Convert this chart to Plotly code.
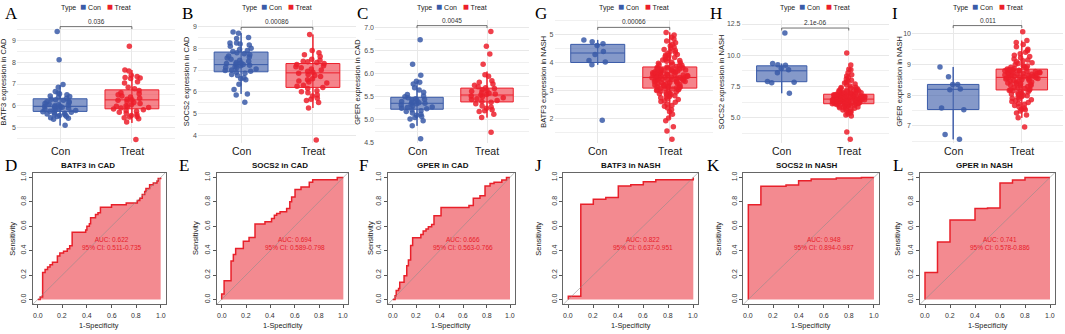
import plotly.graph_objects as go

W, H = 1065, 334

# ---------------- data ----------------
categories = ["Con", "Treat"]
letters_top = ["A", "B", "C", "G", "H", "I"]
letters_bottom = ["D", "E", "F", "J", "K", "L"]
ylabels_top = ["BATF3 expression in CAD", "SOCS2 expression in CAD", "GPER expression in CAD",
               "BATF3 expression in NASH", "SOCS2 expression in NASH", "GPER expression in NASH"]
p_labels = ["0.036", "0.00086", "0.0045", "0.00066", "2.1e-06", "0.011"]
p_bracket = [9.64, 8.97, 7.05, 5.27, 12.18, 10.27]
roc_titles = ["BATF3 in CAD", "SOCS2 in CAD", "GPER in CAD",
              "BATF3 in NASH", "SOCS2 in NASH", "GPER in NASH"]
auc_labels = ["AUC: 0.622<br>95% CI: 0.511-0.735",
              "AUC: 0.694<br>95% CI: 0.589-0.798",
              "AUC: 0.666<br>95% CI: 0.563-0.766",
              "AUC: 0.822<br>95% CI: 0.637-0.951",
              "AUC: 0.948<br>95% CI: 0.894-0.987",
              "AUC: 0.741<br>95% CI: 0.578-0.886"]

# box statistics: [lower whisker, Q1, median, Q3, upper whisker]
A_con_stats = [5.09, 5.74, 5.97, 6.32, 6.95]
A_treat_stats = [5.21, 5.86, 6.27, 6.73, 7.64]
B_con_stats = [5.90, 6.92, 7.25, 7.83, 8.70]
B_treat_stats = [5.25, 6.20, 6.87, 7.30, 8.64]
C_con_stats = [4.87, 5.23, 5.36, 5.49, 5.84]
C_treat_stats = [5.05, 5.39, 5.54, 5.69, 6.05]
G_con_stats = [3.93, 4.01, 4.35, 4.66, 4.82]
G_treat_stats = [2.00, 3.09, 3.47, 3.85, 5.09]
H_con_stats = [6.97, 7.89, 8.76, 9.16, 9.34]
H_treat_stats = [5.40, 6.13, 6.50, 6.89, 7.45]
I_con_stats = [6.56, 7.53, 8.19, 8.35, 8.92]
I_treat_stats = [7.26, 8.17, 8.58, 8.85, 9.78]

# individual samples
A_con = [9.41, 8.12, 6.98, 6.85, 6.65, 6.60, 6.55, 6.50, 6.45, 6.42, 6.40, 6.35, 6.30, 6.28, 6.25,
         6.20, 6.18, 6.15, 6.10, 6.08, 6.05, 6.02, 6.00, 5.98, 5.97, 5.95, 5.93, 5.90, 5.88, 5.85,
         5.83, 5.80, 5.78, 5.75, 5.72, 5.70, 5.68, 5.65, 5.62, 5.60, 5.58, 5.55, 5.52, 5.50, 5.45,
         5.42, 5.38, 5.10]
A_treat = [8.74, 7.64, 7.60, 7.40, 7.35, 7.30, 7.28, 7.25, 7.10, 7.05, 6.85, 6.78, 6.70, 6.60, 6.55,
           6.50, 6.45, 6.40, 6.35, 6.30, 6.28, 6.25, 6.20, 6.15, 6.10, 6.05, 6.00, 5.98, 5.95, 5.92,
           5.90, 5.85, 5.82, 5.78, 5.75, 5.70, 5.65, 5.60, 5.55, 5.50, 5.48, 5.45, 5.40, 5.25, 4.45]
B_con = [8.75, 8.70, 8.50, 8.45, 8.25, 8.25, 8.20, 8.15, 8.10, 8.00, 7.95, 7.90, 7.85, 7.80, 7.75,
         7.70, 7.65, 7.60, 7.55, 7.50, 7.45, 7.40, 7.35, 7.32, 7.30, 7.28, 7.25, 7.22, 7.20, 7.15,
         7.12, 7.10, 7.05, 7.00, 6.98, 6.95, 6.90, 6.85, 6.80, 6.75, 6.65, 6.60, 6.55, 6.35, 6.10,
         5.90, 5.85, 5.52]
B_treat = [8.64, 7.90, 7.80, 7.70, 7.62, 7.50, 7.45, 7.40, 7.38, 7.35, 7.30, 7.25, 7.20, 7.15, 7.10,
           7.05, 7.00, 6.95, 6.90, 6.85, 6.80, 6.75, 6.70, 6.60, 6.55, 6.50, 6.45, 6.40, 6.30, 6.25,
           6.20, 6.15, 6.05, 6.00, 5.95, 5.85, 5.80, 5.70, 5.65, 5.60, 5.50, 5.25, 3.77]
C_con = [6.74, 6.21, 5.97, 5.84, 5.82, 5.78, 5.70, 5.65, 5.60, 5.55, 5.52, 5.50, 5.48, 5.46, 5.45,
         5.43, 5.42, 5.40, 5.38, 5.37, 5.36, 5.35, 5.34, 5.32, 5.30, 5.28, 5.27, 5.25, 5.24, 5.22,
         5.20, 5.18, 5.15, 5.12, 5.10, 5.07, 5.05, 5.02, 4.98, 4.87, 4.59]
C_treat = [6.92, 6.60, 6.43, 6.21, 5.98, 5.95, 5.85, 5.82, 5.78, 5.75, 5.72, 5.70, 5.68, 5.66, 5.64,
           5.62, 5.60, 5.58, 5.56, 5.55, 5.54, 5.52, 5.50, 5.48, 5.46, 5.44, 5.42, 5.40, 5.38, 5.35,
           5.30, 5.28, 5.25, 5.22, 5.20, 5.18, 5.12, 5.05, 4.73]
G_con = [4.82, 4.75, 4.68, 4.62, 4.40, 4.30, 4.08, 4.03, 3.93, 1.94]
G_treat = [1.25, 1.55, 1.70, 1.92, 2.02, 2.15, 2.24, 2.31, 2.38, 2.44, 2.47, 2.52, 2.58, 2.61, 2.63,
           2.68, 2.71, 2.74, 2.77, 2.79, 2.82, 2.86, 2.87, 2.89, 2.91, 2.93, 2.95, 2.97, 2.98, 3.00,
           3.02, 3.03, 3.05, 3.06, 3.07, 3.08, 3.10, 3.11, 3.13, 3.14, 3.15, 3.17, 3.18, 3.20, 3.21,
           3.22, 3.24, 3.25, 3.27, 3.28, 3.29, 3.31, 3.32, 3.33, 3.35, 3.36, 3.37, 3.38, 3.39, 3.40,
           3.41, 3.42, 3.43, 3.44, 3.45, 3.46, 3.46, 3.47, 3.48, 3.49, 3.50, 3.51, 3.52, 3.53, 3.54,
           3.55, 3.56, 3.57, 3.58, 3.59, 3.60, 3.61, 3.62, 3.63, 3.64, 3.65, 3.66, 3.68, 3.69, 3.70,
           3.71, 3.72, 3.73, 3.74, 3.76, 3.77, 3.78, 3.79, 3.81, 3.82, 3.83, 3.85, 3.87, 3.89, 3.91,
           3.93, 3.95, 3.98, 4.00, 4.02, 4.05, 4.08, 4.10, 4.13, 4.16, 4.19, 4.22, 4.25, 4.28, 4.30,
           4.33, 4.37, 4.40, 4.44, 4.48, 4.52, 4.56, 4.61, 4.66, 4.72, 4.78, 4.85, 4.92, 5.00, 5.09]
H_con = [11.79, 9.34, 9.25, 9.20, 8.95, 8.85, 8.60, 7.90, 7.85, 7.80, 6.97]
H_treat = [3.29, 3.87, 5.15, 5.22, 5.30, 5.38, 5.45, 5.52, 5.58, 5.63, 5.68, 5.72, 5.76, 5.80, 5.84,
           5.87, 5.90, 5.93, 5.96, 5.98, 6.00, 6.02, 6.04, 6.06, 6.08, 6.09, 6.10, 6.11, 6.12, 6.13,
           6.14, 6.15, 6.17, 6.18, 6.19, 6.21, 6.22, 6.23, 6.25, 6.26, 6.27, 6.29, 6.30, 6.31, 6.33,
           6.34, 6.35, 6.37, 6.38, 6.39, 6.41, 6.42, 6.43, 6.45, 6.46, 6.47, 6.48, 6.49, 6.50, 6.51,
           6.52, 6.54, 6.55, 6.56, 6.58, 6.59, 6.60, 6.62, 6.63, 6.64, 6.66, 6.67, 6.68, 6.70, 6.71,
           6.72, 6.74, 6.75, 6.76, 6.78, 6.79, 6.80, 6.82, 6.83, 6.85, 6.86, 6.87, 6.89, 6.91, 6.93,
           6.95, 6.97, 6.99, 7.01, 7.03, 7.05, 7.08, 7.10, 7.12, 7.15, 7.18, 7.21, 7.24, 7.27, 7.30,
           7.34, 7.38, 7.42, 7.45, 7.55, 7.62, 7.70, 7.78, 7.85, 7.92, 8.00, 8.10, 8.22, 8.35, 8.45,
           8.60, 8.85, 8.88, 9.22, 10.18]
I_con = [8.92, 8.60, 8.35, 8.35, 8.20, 8.18, 7.58, 7.52, 6.72, 6.56]
I_treat = [6.96, 7.26, 7.35, 7.42, 7.48, 7.52, 7.55, 7.58, 7.62, 7.66, 7.70, 7.73, 7.76, 7.79, 7.82,
           7.85, 7.88, 7.90, 7.93, 7.95, 7.98, 8.00, 8.02, 8.04, 8.06, 8.08, 8.10, 8.12, 8.14, 8.15,
           8.16, 8.18, 8.20, 8.22, 8.24, 8.26, 8.28, 8.30, 8.32, 8.33, 8.35, 8.37, 8.38, 8.40, 8.42,
           8.43, 8.45, 8.46, 8.48, 8.49, 8.50, 8.52, 8.53, 8.54, 8.55, 8.56, 8.57, 8.58, 8.59, 8.60,
           8.61, 8.62, 8.63, 8.64, 8.65, 8.66, 8.67, 8.68, 8.69, 8.70, 8.71, 8.72, 8.73, 8.74, 8.75,
           8.76, 8.77, 8.78, 8.79, 8.80, 8.81, 8.82, 8.83, 8.84, 8.85, 8.87, 8.89, 8.91, 8.93, 8.95,
           8.97, 9.00, 9.03, 9.06, 9.09, 9.12, 9.15, 9.18, 9.22, 9.26, 9.30, 9.35, 9.40, 9.45, 9.50,
           9.58, 9.65, 9.72, 9.78, 10.07]

# ROC curves (1-specificity, sensitivity) step vertices
D_fpr = [0, 0.02, 0.04, 0.06, 0.08, 0.10, 0.12, 0.16, 0.18, 0.21, 0.24, 0.26, 0.28, 0.39, 0.40, 0.42,
         0.43, 0.47, 0.49, 0.51, 0.60, 0.72, 0.81, 0.83, 0.85, 0.87, 0.88, 0.91, 0.94, 0.97, 0.98, 1.0]
D_tpr = [0, 0.02, 0.22, 0.245, 0.265, 0.285, 0.305, 0.355, 0.38, 0.395, 0.415, 0.44, 0.55, 0.57, 0.60,
         0.62, 0.67, 0.695, 0.71, 0.755, 0.775, 0.79, 0.81, 0.83, 0.86, 0.885, 0.91, 0.94, 0.955, 0.97,
         0.99, 1.0]
E_fpr = [0, 0.0, 0.02, 0.077, 0.096, 0.115, 0.178, 0.225, 0.274, 0.356, 0.41, 0.433, 0.452, 0.48,
         0.534, 0.56, 0.575, 0.603, 0.652, 0.72, 0.748, 0.95, 1.0]
E_tpr = [0, 0.045, 0.153, 0.315, 0.368, 0.417, 0.476, 0.508, 0.618, 0.637, 0.664, 0.69, 0.704, 0.718,
         0.745, 0.80, 0.84, 0.90, 0.922, 0.96, 0.98, 1.0, 1.0]
F_fpr = [0, 0.02, 0.03, 0.05, 0.06, 0.097, 0.12, 0.134, 0.153, 0.17, 0.24, 0.26, 0.284, 0.304, 0.332,
         0.352, 0.412, 0.65, 0.687, 0.744, 0.787, 0.83, 0.864, 0.93, 0.97, 1.0]
F_tpr = [0, 0.03, 0.073, 0.09, 0.14, 0.195, 0.276, 0.324, 0.443, 0.505, 0.532, 0.56, 0.578, 0.595,
         0.614, 0.686, 0.754, 0.77, 0.83, 0.85, 0.93, 0.95, 0.96, 0.978, 1.0, 1.0]
J_fpr = [0, 0.0, 0.1, 0.2, 0.3, 0.4, 0.5, 0.6, 0.7, 1.0]
J_tpr = [0, 0.027, 0.78, 0.82, 0.835, 0.93, 0.94, 0.965, 0.98, 1.0]
K_fpr = [0, 0.0, 0.1, 0.3, 0.4, 0.5, 0.7, 0.9, 1.0]
K_tpr = [0, 0.776, 0.927, 0.938, 0.973, 0.986, 0.995, 1.0, 1.0]
L_fpr = [0, 0.0, 0.1, 0.2, 0.4, 0.5, 0.6, 0.7, 0.8, 1.0]
L_tpr = [0, 0.22, 0.47, 0.65, 0.745, 0.75, 0.955, 0.978, 1.0, 1.0]

roc_ticks = [0.0, 0.2, 0.4, 0.6, 0.8, 1.0]

box_con = [A_con_stats, B_con_stats, C_con_stats, G_con_stats, H_con_stats, I_con_stats]
box_treat = [A_treat_stats, B_treat_stats, C_treat_stats, G_treat_stats, H_treat_stats, I_treat_stats]
pts_con = [A_con, B_con, C_con, G_con, H_con, I_con]
pts_treat = [A_treat, B_treat, C_treat, G_treat, H_treat, I_treat]
roc_fpr = [D_fpr, E_fpr, F_fpr, J_fpr, K_fpr, L_fpr]
roc_tpr = [D_tpr, E_tpr, F_tpr, J_tpr, K_tpr, L_tpr]

# ---------------- layout geometry (pixels) ----------------
top_x_px = [(17, 175), (198, 356), (375, 529), (554.5, 713), (741.5, 889), (912, 1063)]
top_y_px = (19, 144)
top_yrange = [(4.273, 9.955), (3.622, 9.319), (4.49, 7.177), (1.11, 5.543), (2.97, 12.84), (6.43, 10.46)]
top_ticks = [[5, 6, 7, 8, 9], [4, 5, 6, 7, 8, 9], [4.5, 5.0, 5.5, 6.0, 6.5, 7.0],
             [2, 3, 4, 5], [5.0, 7.5, 10.0, 12.5], [7, 8, 9, 10]]
top_tickfmt = ["{:d}", "{:d}", "{:.1f}", "{:d}", "{:.1f}", "{:d}"]
top_minor = [0.5, 0.5, 0.25, 0.5, 1.25, 0.5]
top_ylab_x = [4, 186.7, 357.3, 543.3, 721.7, 900]
top_letter_x = [3, 180, 355, 533, 708, 890]
top_xlab_y = 152

roc_x_px = [(32.8, 165.6), (216.8, 348.2), (388, 514.7), (563.3, 698.3), (743.3, 879), (920, 1055)]
roc_y_px = (173.6, 307)
roc_title_x = [88, 280, 443, 631, 807, 984]
roc_sens_x = [12.3, 195.7, 370.7, 538.3, 718.3, 897.3]
bottom_letter_x = [3, 177, 357, 533, 705, 891]
roc_xtick_y = 318.5
roc_xlab_y = 328.5

CON_COL = "#3A5BA8"
TRT_COL = "#EC1F2B"
CON_FILL = "rgba(58,91,168,0.62)"
TRT_FILL = "rgba(236,31,43,0.55)"
FONT = "Liberation Sans, Arial, sans-serif"
SERIF = "Liberation Serif, Times New Roman, serif"


def fx(p):
    return p / W


def fy(p):
    return 1 - p / H


fig = go.Figure()
annotations = []
axes = {}


def axref(i):
    return ("x" if i == 1 else f"x{i}"), ("y" if i == 1 else f"y{i}")


def axkey(i):
    return ("xaxis" if i == 1 else f"xaxis{i}"), ("yaxis" if i == 1 else f"yaxis{i}")


# ---------------- top row: box plots ----------------
for k in range(6):
    i = k + 1
    xr, yr = axref(i)
    xk, yk = axkey(i)
    lo, hi = top_yrange[k]
    for pos, stats, pts, col, fill in [(1, box_con[k], pts_con[k], CON_COL, CON_FILL),
                                         (2, box_treat[k], pts_treat[k], TRT_COL, TRT_FILL)]:
        # whisker line running through the (translucent) box
        fig.add_trace(go.Scatter(x=[pos, pos], y=[stats[0], stats[4]], mode="lines",
                                 line=dict(color=col, width=1), xaxis=xr, yaxis=yr, hoverinfo="skip"))
        fig.add_trace(go.Box(x=[pos], lowerfence=[stats[0]], q1=[stats[1]], median=[stats[2]],
                             q3=[stats[3]], upperfence=[stats[4]], width=0.75, whiskerwidth=0,
                             fillcolor=fill, line=dict(color=col, width=1), boxpoints=False,
                             xaxis=xr, yaxis=yr, hoverinfo="skip"))
        fig.add_trace(go.Box(x=[pos] * len(pts), y=pts, boxpoints="all", jitter=0.7, pointpos=0,
                             width=0.75, fillcolor="rgba(0,0,0,0)",
                             line=dict(color="rgba(0,0,0,0)", width=0),
                             marker=dict(color=col, size=5.5, opacity=0.85),
                             xaxis=xr, yaxis=yr, hoverinfo="skip"))
    # significance bracket
    ppu = (top_y_px[1] - top_y_px[0]) / (hi - lo)
    d = 2.5 / ppu
    b = p_bracket[k]
    fig.add_trace(go.Scatter(x=[1, 1, 2, 2], y=[b - d, b, b, b - d], mode="lines",
                             line=dict(color="#4d4d4d", width=0.8), xaxis=xr, yaxis=yr,
                             hoverinfo="skip"))
    annotations.append(dict(x=1.5, y=b, xref=xr, yref=yr, text=p_labels[k], showarrow=False,
                            yanchor="bottom", yshift=0, font=dict(size=6.5, color="#333", family=FONT)))
    x0, x1 = top_x_px[k]
    axes[xk] = dict(domain=[fx(x0), fx(x1)], range=[0.4, 2.6], tickvals=[1, 2],
                    showticklabels=False, showgrid=True, gridcolor="#E8E8E8", gridwidth=1,
                    zeroline=False, showline=False, ticks="", anchor=yr)
    axes[yk] = dict(domain=[fy(top_y_px[1]), fy(top_y_px[0])], range=[lo, hi],
                    tickvals=top_ticks[k], ticktext=[top_tickfmt[k].format(v) for v in top_ticks[k]],
                    showgrid=True, gridcolor="#E8E8E8", gridwidth=1, zeroline=False, showline=False,
                    ticks="", tickfont=dict(size=7, color="#4d4d4d", family=FONT), anchor=xr,
                    minor=dict(tick0=top_ticks[k][0], dtick=top_minor[k], showgrid=True,
                               gridcolor="#F0F0F0", gridwidth=0.6))
    # category labels
    for pos, cat in zip([1, 2], categories):
        annotations.append(dict(x=pos, y=fy(top_xlab_y), xref=xr, yref="paper", text=cat,
                                showarrow=False, xanchor="center", yanchor="middle",
                                font=dict(size=10.5, color="#1a1a1a", family=FONT)))
    # y title
    annotations.append(dict(x=fx(top_ylab_x[k]), y=fy((top_y_px[0] + top_y_px[1]) / 2), xref="paper",
                            yref="paper", text=ylabels_top[k], textangle=-90, showarrow=False,
                            xanchor="center", yanchor="middle",
                            font=dict(size=7.5, color="#222", family=FONT)))
    # legend
    cx = (x0 + x1) / 2
    legend_text = (f"Type  <span style='color:{CON_COL};font-size:10px'>■</span> {categories[0]}   "
                   f"<span style='color:{TRT_COL};font-size:10px'>■</span> {categories[1]}")
    annotations.append(dict(x=fx(cx), y=fy(5.5), xref="paper", yref="paper", text=legend_text,
                            showarrow=False, xanchor="center", yanchor="middle",
                            font=dict(size=7, color="#222", family=FONT)))
    # panel letter
    annotations.append(dict(x=fx(top_letter_x[k]), y=fy(12.5), xref="paper", yref="paper",
                            text=letters_top[k], showarrow=False, xanchor="left", yanchor="middle",
                            font=dict(size=17, color="#000", family=SERIF)))

# ---------------- bottom row: ROC curves ----------------
for k in range(6):
    i = k + 7
    xr, yr = axref(i)
    xk, yk = axkey(i)
    fig.add_trace(go.Scatter(x=roc_fpr[k], y=roc_tpr[k], mode="lines",
                             line=dict(color="#E8202A", width=1.5, shape="hv"),
                             fill="tozeroy", fillcolor="rgba(235,60,70,0.6)",
                             xaxis=xr, yaxis=yr, hoverinfo="skip"))
    fig.add_trace(go.Scatter(x=[-0.04, 1.04], y=[-0.04, 1.04], mode="lines",
                             line=dict(color="rgba(140,140,140,0.55)", width=1),
                             xaxis=xr, yaxis=yr, hoverinfo="skip"))
    annotations.append(dict(x=0.6, y=0.457, xref=xr, yref=yr, text=auc_labels[k], showarrow=False,
                            xanchor="center", yanchor="middle",
                            font=dict(size=6.5, color="#E8202A", family=FONT)))
    x0, x1 = roc_x_px[k]
    common = dict(range=[-0.04, 1.04], tickvals=roc_ticks, ticktext=[f"{v:.1f}" for v in roc_ticks],
                  ticks="outside", ticklen=3, tickcolor="#555", tickwidth=0.8, showline=True,
                  mirror=True, linecolor="#666", linewidth=1, showgrid=False, zeroline=False,
                  tickfont=dict(size=7, color="#333", family=FONT))
    axes[xk] = dict(domain=[fx(x0), fx(x1)], anchor=yr, showticklabels=False, **common)
    axes[yk] = dict(domain=[fy(roc_y_px[1]), fy(roc_y_px[0])], anchor=xr, tickangle=-90, **common)
    for v in roc_ticks:
        annotations.append(dict(x=v, y=fy(roc_xtick_y), xref=xr, yref="paper", text=f"{v:.1f}",
                                showarrow=False, xanchor="center", yanchor="middle",
                                font=dict(size=7, color="#333", family=FONT)))
    annotations.append(dict(x=fx(roc_title_x[k]), y=fy(166), xref="paper", yref="paper",
                            text=f"<b>{roc_titles[k]}</b>", showarrow=False, xanchor="center",
                            yanchor="middle", font=dict(size=8, color="#111", family=FONT)))
    annotations.append(dict(x=fx(roc_sens_x[k]), y=fy((roc_y_px[0] + roc_y_px[1]) / 2), xref="paper",
                            yref="paper", text="Sensitivity", textangle=-90, showarrow=False,
                            xanchor="center", yanchor="middle",
                            font=dict(size=7.5, color="#222", family=FONT)))
    annotations.append(dict(x=fx((x0 + x1) / 2), y=fy(roc_xlab_y), xref="paper", yref="paper",
                            text="1-Specificity", showarrow=False, xanchor="center", yanchor="middle",
                            borderpad=0, font=dict(size=7.3, color="#222", family=FONT)))
    annotations.append(dict(x=fx(bottom_letter_x[k]), y=fy(166), xref="paper", yref="paper",
                            text=letters_bottom[k], showarrow=False, xanchor="left", yanchor="middle",
                            font=dict(size=17, color="#000", family=SERIF)))

fig.update_layout(width=W, height=H, margin=dict(l=0, r=0, t=0, b=0), showlegend=False,
                  paper_bgcolor="white", plot_bgcolor="white", boxmode="overlay",
                  annotations=annotations, font=dict(family=FONT), **axes)
# remove the browser's default page margin so the figure sits at the window origin
fig.write_html("out.html", config={"displayModeBar": False},
               post_script="document.body.style.margin='0';document.body.style.overflow='hidden';")
